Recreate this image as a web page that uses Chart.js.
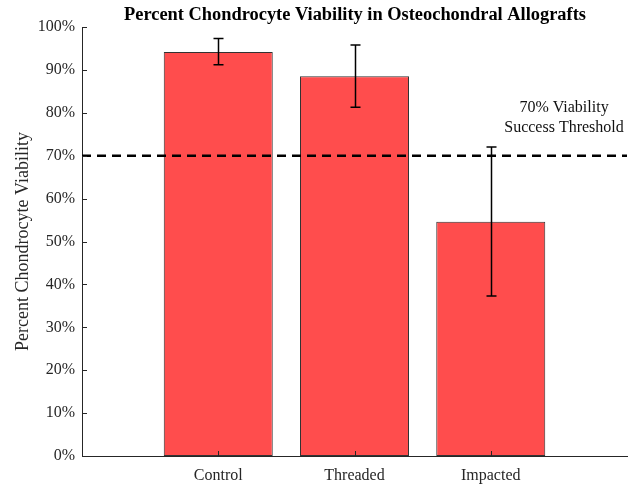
<!DOCTYPE html>
<html>
<head>
<meta charset="utf-8">
<script src="https://cdn.jsdelivr.net/npm/chart.js@4.4.1/dist/chart.umd.min.js"></script>
<style>
  html, body { margin: 0; padding: 0; background: #fff; }
  #wrap { width: 628px; height: 484px; position: relative; }
</style>
</head>
<body>
<div id="wrap"><canvas id="c" width="628" height="484"></canvas></div>
<script>
// Groups and measured viability (%)
const categories = ['Control', 'Threaded', 'Impacted'];
const positions = [1, 2, 3];
const meanViability = [94.2, 88.5, 54.6];
const errLow = [91.2, 81.3, 37.3];
const errHigh = [97.3, 95.8, 72.0];
const thresholdValue = 70;
const yTicks = [0, 10, 20, 30, 40, 50, 60, 70, 80, 90, 100];

const SERIF = '"Liberation Serif", "DejaVu Serif", serif';
const AXIS_COLOR = '#262626';

// Error bars, threshold line, inward ticks and annotation text
const overlay = {
  id: 'overlay',
  afterDatasetsDraw(chart) {
    const { ctx, scales: { x, y }, chartArea } = chart;
    ctx.save();

    // dashed threshold line
    ctx.strokeStyle = '#000';
    ctx.lineWidth = 2.5;
    ctx.setLineDash([9, 6]);
    const ty = y.getPixelForValue(thresholdValue);
    ctx.beginPath();
    ctx.moveTo(chartArea.left, ty);
    ctx.lineTo(chartArea.right, ty);
    ctx.stroke();
    ctx.setLineDash([]);

    // error bars
    ctx.lineWidth = 1.5;
    ctx.strokeStyle = '#000';
    positions.forEach((p, i) => {
      const px = Math.round(x.getPixelForValue(p)) + 0.5;
      const y1 = y.getPixelForValue(errLow[i]);
      const y2 = y.getPixelForValue(errHigh[i]);
      const cap = 5;
      ctx.beginPath();
      ctx.moveTo(px, y1); ctx.lineTo(px, y2);
      ctx.moveTo(px - cap, y1); ctx.lineTo(px + cap, y1);
      ctx.moveTo(px - cap, y2); ctx.lineTo(px + cap, y2);
      ctx.stroke();
    });

    // inward tick marks
    ctx.strokeStyle = AXIS_COLOR;
    ctx.lineWidth = 1;
    yTicks.forEach(v => {
      const py = Math.round(y.getPixelForValue(v)) + 0.5;
      ctx.beginPath();
      ctx.moveTo(chartArea.left, py);
      ctx.lineTo(chartArea.left + 5, py);
      ctx.stroke();
    });
    positions.forEach(p => {
      const px = Math.round(x.getPixelForValue(p)) + 0.5;
      ctx.beginPath();
      ctx.moveTo(px, chartArea.bottom);
      ctx.lineTo(px, chartArea.bottom - 5);
      ctx.stroke();
    });

    // threshold annotation
    ctx.fillStyle = '#111';
    ctx.font = '16px ' + SERIF;
    ctx.textAlign = 'center';
    ctx.textBaseline = 'middle';
    ctx.fillText('70% Viability', 564, 108);
    ctx.fillText('Success Threshold', 564, 128);

    // title
    ctx.font = 'bold 18.4px ' + SERIF;
    ctx.fillStyle = '#000';
    ctx.fillText('Percent Chondrocyte Viability in Osteochondral Allografts', 355, 15);

    ctx.restore();
  }
};

new Chart(document.getElementById('c'), {
  type: 'bar',
  data: {
    datasets: [{
      data: positions.map((p, i) => ({ x: p, y: meanViability[i] })),
      backgroundColor: 'rgb(255, 77, 77)',
      borderColor: '#333333',
      borderWidth: 1,
      borderSkipped: false,
      barPercentage: 0.8,
      categoryPercentage: 1.0
    }]
  },
  options: {
    responsive: false,
    animation: false,
    devicePixelRatio: 1,
    layout: { padding: { top: 27, right: 1, left: 0, bottom: 0 } },
    plugins: { legend: { display: false }, title: { display: false }, tooltip: { enabled: false } },
    scales: {
      x: {
        type: 'linear',
        offset: false,
        min: 0, max: 4,
        grid: { display: false, drawTicks: false, offset: false },
        border: { display: true, color: AXIS_COLOR, width: 1 },
        afterBuildTicks(scale) { scale.ticks = positions.map(v => ({ value: v })); },
        afterFit(scale) { scale.height = 28; },
        ticks: {
          padding: 10,
          color: '#262626',
          font: { family: SERIF, size: 16 },
          callback: (v) => categories[positions.indexOf(v)] || ''
        }
      },
      y: {
        min: 0, max: 100,
        grid: { display: false, drawTicks: false },
        border: { display: true, color: AXIS_COLOR, width: 1 },
        afterBuildTicks(scale) { scale.ticks = yTicks.map(v => ({ value: v })); },
        afterFit(scale) { scale.width = 82; },
        title: {
          display: true,
          text: 'Percent Chondrocyte Viability',
          color: '#262626',
          font: { family: SERIF, size: 18 },
          padding: { top: 12, bottom: 0 }
        },
        ticks: {
          padding: 7,
          color: '#262626',
          font: { family: SERIF, size: 16 },
          callback: (v) => v + '%'
        }
      }
    }
  },
  plugins: [overlay]
});
</script>
</body>
</html>
